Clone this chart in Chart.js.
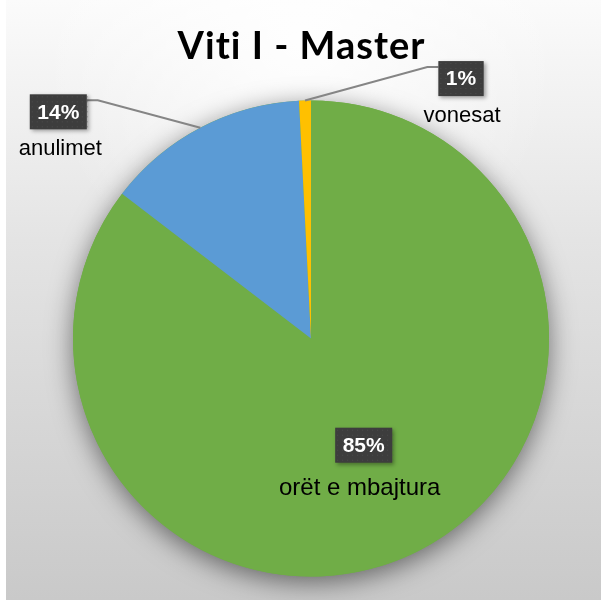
<!DOCTYPE html>
<html>
<head>
<meta charset="utf-8">
<script src="https://cdn.jsdelivr.net/npm/chart.js@4"></script>
<style>
  html, body { margin: 0; padding: 0; background: #fff; }
  #wrap { width: 601px; height: 600px; }
</style>
</head>
<body>
<div id="wrap"><canvas id="myChart" width="601" height="600"></canvas></div>
<script>
// data
var categories = ['orët e mbajtura', 'anulimet', 'vonesat'];
var values = [85.4, 13.8, 0.8];
var percentLabels = ['85%', '14%', '1%'];
var colors = ['#70AD47', '#5B9BD5', '#FFC000'];
var titleText = 'Viti I - Master';

// background: light grey gradient, white strip at left, plus the title
var bgPlugin = {
    id: 'bg',
    beforeDraw: function (chart) {
        var ctx = chart.ctx;
        ctx.save();
        ctx.fillStyle = '#ffffff';
        ctx.fillRect(0, 0, chart.width, chart.height);
        var g = ctx.createLinearGradient(0, 0, 0, chart.height);
        g.addColorStop(0, '#fbfbfb');
        g.addColorStop(0.4, '#e4e4e4');
        g.addColorStop(1, '#c9c9c9');
        ctx.fillStyle = g;
        ctx.fillRect(6, 0, chart.width - 6, chart.height);
        var r = ctx.createRadialGradient(300, 40, 0, 300, 40, 260);
        r.addColorStop(0, 'rgba(255,255,255,0.9)');
        r.addColorStop(1, 'rgba(255,255,255,0)');
        ctx.fillStyle = r;
        ctx.fillRect(6, 0, chart.width - 6, chart.height);

        // title (tracking 1px also stops the "ti" ligature)
        ctx.letterSpacing = '1px';
        ctx.font = 'bold 38px Lato, sans-serif';
        ctx.fillStyle = '#000000';
        ctx.textAlign = 'center';
        ctx.textBaseline = 'alphabetic';
        ctx.fillText(titleText, chart.width / 2 + 1, 59);
        ctx.letterSpacing = '0px';
        ctx.restore();
    }
};

// soft shadow under the whole pie
var shadowPlugin = {
    id: 'pieShadow',
    beforeDatasetsDraw: function (chart) {
        var arc = chart.getDatasetMeta(0).data[0];
        if (!arc) return;
        var ctx = chart.ctx;
        ctx.save();
        ctx.shadowColor = 'rgba(0,0,0,0.5)';
        ctx.shadowBlur = 26;
        ctx.shadowOffsetY = 6;
        ctx.fillStyle = colors[0];
        ctx.beginPath();
        ctx.arc(arc.x, arc.y, arc.outerRadius, 0, Math.PI * 2);
        ctx.fill();
        ctx.restore();
    }
};

// data labels: dark box with percentage + category name below
var labelPlugin = {
    id: 'pieLabels',
    afterDatasetsDraw: function (chart, args, opts) {
        var ctx = chart.ctx;
        var meta = chart.getDatasetMeta(0);
        meta.data.forEach(function (arc, i) {
            var mid = (arc.startAngle + arc.endAngle) / 2;
            var cx, cy, edgeX, edgeY;
            var off = opts.offsets[i];
            if (off) {
                edgeX = arc.x + Math.cos(mid) * arc.outerRadius;
                edgeY = arc.y + Math.sin(mid) * arc.outerRadius;
                cx = edgeX + off[0];
                cy = edgeY + off[1];
            } else {
                var p = arc.tooltipPosition();
                cx = p.x;
                cy = p.y;
            }
            ctx.save();
            ctx.font = 'bold 21px "Liberation Sans", Arial, sans-serif';
            var tw = ctx.measureText(percentLabels[i]).width;
            var bw = tw + 15, bh = 35;
            var bx = cx - bw / 2, by = cy - bh / 2;

            // leader line
            if (off) {
                var sx = off[0] < 0 ? bx + bw : bx;
                var sy = by + 6;
                var kx = off[0] < 0 ? sx + 11 : sx - 11;
                ctx.strokeStyle = '#858585';
                ctx.lineWidth = 2;
                ctx.beginPath();
                ctx.moveTo(sx, sy);
                ctx.lineTo(kx, sy);
                ctx.lineTo(edgeX, edgeY);
                ctx.stroke();
            }

            // box
            ctx.shadowColor = 'rgba(0,0,0,0.35)';
            ctx.shadowBlur = 4;
            ctx.shadowOffsetX = 2;
            ctx.shadowOffsetY = 2;
            ctx.fillStyle = '#3d3d3d';
            ctx.fillRect(bx, by, bw, bh);
            ctx.shadowColor = 'transparent';
            ctx.fillStyle = 'rgba(90,90,90,0.6)';
            for (var yy = by + 2; yy < by + bh; yy += 5) {
                for (var xx = bx + 2; xx < bx + bw; xx += 5) {
                    ctx.fillRect(xx, yy, 1, 1);
                }
            }
            ctx.fillStyle = '#ffffff';
            ctx.textAlign = 'center';
            ctx.textBaseline = 'middle';
            ctx.fillText(percentLabels[i], cx, cy + 1);

            // category name
            ctx.font = opts.nameSize[i] + 'px "Liberation Sans", Arial, sans-serif';
            ctx.fillStyle = '#000000';
            ctx.textBaseline = 'alphabetic';
            ctx.fillText(categories[i], cx + opts.nameShift[i], by + bh + opts.nameGap[i]);
            ctx.restore();
        });
    }
};

var ctx = document.getElementById('myChart').getContext('2d');
var myChart = new Chart(ctx, {
    type: 'pie',
    data: {
        labels: categories,
        datasets: [{
            data: values,
            backgroundColor: colors,
            borderWidth: 0
        }]
    },
    options: {
        responsive: false,
        animation: false,
        layout: {
            padding: { left: 73, right: 52, top: 100, bottom: 23 }
        },
        plugins: {
            legend: { display: false },
            tooltip: { enabled: false },
            title: { display: false },
            pieLabels: {
                offsets: [null, [-142, -16], [156, -22]],
                nameShift: [-4, 2, 1],
                nameSize: [24, 22, 22],
                nameGap: [32, 26, 26]
            }
        }
    },
    plugins: [bgPlugin, shadowPlugin, labelPlugin]
});
</script>
</body>
</html>
